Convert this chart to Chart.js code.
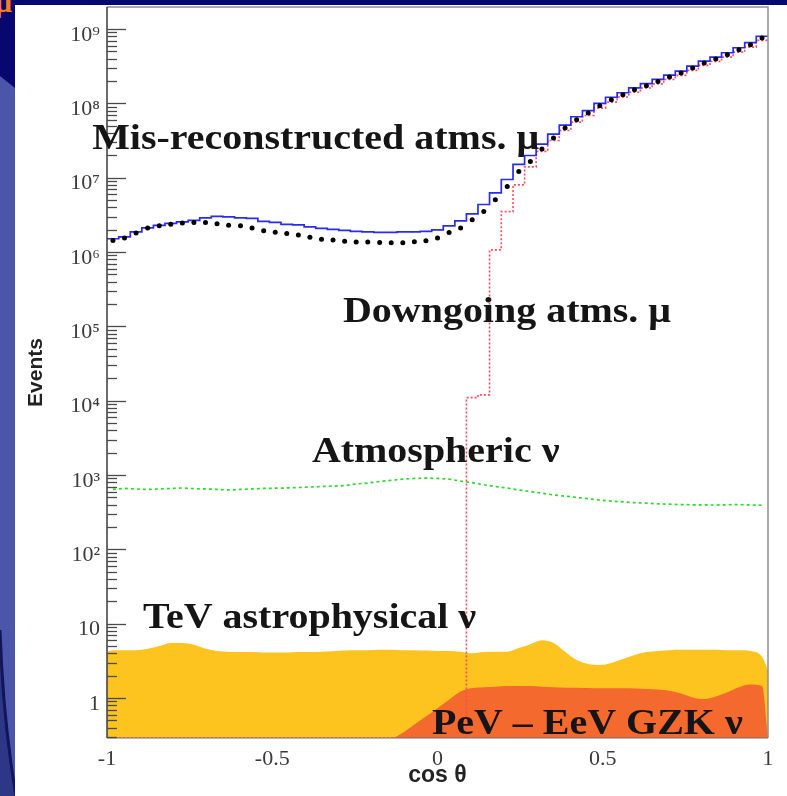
<!DOCTYPE html>
<html><head><meta charset="utf-8">
<script src="https://cdn.jsdelivr.net/npm/chart.js@4.4.1/dist/chart.umd.min.js"></script>
<style>
html,body{margin:0;padding:0;}
body{width:787px;height:796px;overflow:hidden;background:#4b56a8;position:relative;}
.abs{position:absolute;}
#navyTop{left:0;top:0;width:787px;height:5px;background:#07076f;}
#navyCorner{left:0;top:0;width:15px;height:90px;background:#07076f;clip-path:polygon(0 0,100% 0,100% 88px,0 76px);}
#arc{left:0;top:600px;}
#paper{left:15px;top:5px;width:772px;height:791px;background:#fff;}
#mu{left:-5px;top:-15px;color:#ff7a1a;font:bold 30px "Liberation Serif",serif;}
#wrap{left:0;top:0;width:787px;height:796px;}
</style></head>
<body>
<div id="navyTop" class="abs"></div>
<div id="navyCorner" class="abs"></div>
<svg id="arc" class="abs" width="20" height="196">
  <path d="M0,30 Q3,120 16,196 L0,196 Z" fill="#2e3786"/>
  <path d="M0,30 Q3,120 16,196" fill="none" stroke="#11155c" stroke-width="3"/>
</svg>
<div id="paper" class="abs"></div>
<span id="mu" class="abs">μ</span>
<div id="wrap" class="abs"><canvas id="c"></canvas></div>
<script>
// ---------------- data ----------------
const X_MIN = -1, X_MAX = 1;
const Y_MIN = 0.29, Y_MAX = 1.98e9;

const binCentres = [
 -0.982,-0.947,-0.912,-0.877,-0.842,-0.807,-0.772,-0.737,-0.702,-0.667,
 -0.632,-0.596,-0.561,-0.526,-0.491,-0.456,-0.421,-0.386,-0.351,-0.316,
 -0.281,-0.246,-0.211,-0.175,-0.140,-0.105,-0.070,-0.035, 0.000, 0.035,
  0.070, 0.105, 0.140, 0.175, 0.211, 0.246, 0.281, 0.316, 0.351, 0.386,
  0.421, 0.456, 0.491, 0.526, 0.561, 0.596, 0.632, 0.667, 0.702, 0.737,
  0.772, 0.807, 0.842, 0.877, 0.912, 0.947, 0.982];

// blue solid histogram: mis-reconstructed atmospheric muons
const misRecoMu = [
 1.51e6,1.60e6,1.87e6,2.12e6,2.29e6,2.43e6,2.55e6,2.67e6,2.89e6,3.02e6,
 2.98e6,2.89e6,2.84e6,2.59e6,2.51e6,2.36e6,2.32e6,2.18e6,2.08e6,2.02e6,
 1.96e6,1.90e6,1.87e6,1.84e6,1.84e6,1.87e6,1.87e6,1.90e6,1.99e6,2.25e6,
 2.63e6,3.27e6,4.36e6,6.27e6,9.46e6,1.51e7,1.99e7,2.83e7,3.86e7,5.10e7,
 6.61e7,8.00e7,1.00e8,1.21e8,1.39e8,1.62e8,1.84e8,2.10e8,2.40e8,2.72e8,
 3.18e8,3.71e8,4.20e8,4.80e8,5.60e8,6.55e8,8.00e8];

// black dots
const atmMuPoints = [
 1.43e6,1.54e6,1.81e6,2.10e6,2.25e6,2.37e6,2.45e6,2.49e6,2.49e6,2.40e6,
 2.30e6,2.25e6,2.10e6,1.93e6,1.84e6,1.77e6,1.69e6,1.58e6,1.49e6,1.45e6,
 1.40e6,1.36e6,1.36e6,1.34e6,1.33e6,1.33e6,1.38e6,1.42e6,1.54e6,1.83e6,
 2.10e6,2.71e6,3.51e6,5.04e6,7.62e6,1.21e7,1.65e7,2.43e7,3.41e7,4.65e7,
 6.01e7,7.40e7,9.29e7,1.12e8,1.31e8,1.52e8,1.73e8,1.97e8,2.26e8,2.56e8,
 2.99e8,3.49e8,3.95e8,4.51e8,5.26e8,6.15e8,7.57e8];

// red dotted histogram: downgoing atmospheric muons (0 = empty bin)
const downgoingMu = [
 0,0,0,0,0,0,0,0,0,0,
 0,0,0,0,0,0,0,0,0,0,
 0,0,0,0,0,0,0,0,0,0,
 0,1.1e4,1.2e4,1.07e6,3.5e6,8.0e6,1.4e7,2.26e7,3.17e7,4.32e7,
 5.59e7,6.88e7,8.64e7,1.04e8,1.22e8,1.41e8,1.61e8,1.83e8,2.10e8,2.38e8,
 2.78e8,3.25e8,3.67e8,4.19e8,4.89e8,5.72e8,7.04e8];

// green dashed: atmospheric neutrinos
const atmNu = [
 640,660,650,640,650,660,670,655,650,640,
 630,640,650,660,665,670,680,690,700,710,
 720,760,780,820,850,880,900,910,900,880,
 830,790,740,700,670,630,600,570,540,520,
 500,480,460,445,435,425,418,410,405,400,
 398,396,395,398,400,396,392];

// yellow area: TeV astrophysical neutrinos
const tevAstroNu = [
 4.4,4.4,4.4,4.6,5.0,5.5,5.5,5.2,4.6,4.3,
 4.2,4.15,4.15,4.1,4.1,4.1,4.15,4.15,4.2,4.25,
 4.35,4.4,4.4,4.45,4.45,4.4,4.4,4.35,4.3,4.3,
 4.2,4.0,4.15,4.2,4.2,4.7,5.3,6.0,5.5,4.2,
 3.25,2.87,2.78,2.96,3.35,3.79,4.16,4.3,4.4,4.45,
 4.45,4.45,4.45,4.4,4.4,4.3,3.6];
const tevAstroEdges = [4.2, 2.4];   // values at cos = -1 and cos = 1

// orange area: PeV - EeV GZK neutrinos (0 = none)
const gzkNu = [
 0,0,0,0,0,0,0,0,0,0,
 0,0,0,0,0,0,0,0,0,0,
 0,0,0,0,0,0.34,0.44,0.565,0.73,0.95,
 1.22,1.36,1.4,1.42,1.45,1.45,1.45,1.42,1.4,1.38,
 1.38,1.36,1.35,1.35,1.35,1.34,1.32,1.3,1.25,1.15,
 1.02,0.97,1.05,1.2,1.4,1.52,1.45];

const yTickValues = [1,10,1e2,1e3,1e4,1e5,1e6,1e7,1e8,1e9];
const xTickStep = 0.5;

const curveLabels = [
 {text:'Mis-reconstructed atms. μ', x:-1.045, y:2.4e7},
 {text:'Downgoing atms. μ',         x:-0.286, y:1.15e5},
 {text:'Atmospheric ν',             x:-0.380, y:1.5e3},
 {text:'TeV astrophysical ν',       x:-0.891, y:8.75},
 {text:'PeV – EeV GZK ν',           x:-0.017, y:0.33}
];

// ---------------- helpers ----------------
const orMin = v => (v > 0 ? v : Y_MIN);
function histogramPoints(values){
  const pts = values.map((v,i)=>({x: i===0 ? X_MIN : (binCentres[i-1]+binCentres[i])/2, y: orMin(v)}));
  pts.push({x: X_MAX, y: orMin(values[values.length-1])});
  return pts;
}
const centrePoints = values => values.map((v,i)=>({x: binCentres[i], y: orMin(v)}));
const supDigits = {'2':'²','3':'³','4':'⁴','5':'⁵','6':'⁶','7':'⁷','8':'⁸','9':'⁹'};
function powLabel(v){
  const e = Math.round(Math.log10(v));
  if (e === 0) return '1';
  if (e === 1) return '10';
  return '10' + supDigits[String(e)];
}

// ---------------- plugins ----------------
const framePlugin = {
  id:'frame',
  afterDatasetsDraw(chart){
    const {ctx, chartArea:{left,right,top,bottom}, scales:{y}} = chart;
    ctx.save();
    ctx.strokeStyle = '#8e8e8e'; ctx.lineWidth = 1.5;
    ctx.beginPath();
    ctx.moveTo(left, top); ctx.lineTo(right, top); ctx.lineTo(right, bottom);
    ctx.stroke();
    ctx.strokeStyle = '#3a3a3a'; ctx.lineWidth = 1.5;
    ctx.beginPath(); ctx.moveTo(left, top); ctx.lineTo(left, bottom); ctx.stroke();
    ctx.strokeStyle = '#6f6f6f'; ctx.lineWidth = 1.2;
    ctx.beginPath(); ctx.moveTo(left, bottom); ctx.lineTo(right, bottom); ctx.stroke();
    // log ticks pointing into the frame
    ctx.strokeStyle = '#4a4a4a'; ctx.lineWidth = 1.3;
    for (let e = -1; e <= 9; e++){
      for (let m = 1; m <= 9; m++){
        const v = m * Math.pow(10, e);
        if (v < y.min || v > y.max) continue;
        const py = Math.round(y.getPixelForValue(v)) + 0.5;
        const len = m === 1 ? 19 : 10;
        ctx.beginPath(); ctx.moveTo(left, py); ctx.lineTo(left + len, py); ctx.stroke();
      }
    }
    ctx.restore();
  },
  afterDraw(chart){
    const {ctx, scales:{x,y}} = chart;
    ctx.save();
    ctx.font = 'bold 36px "Liberation Serif", serif';
    ctx.fillStyle = '#151515';
    ctx.textBaseline = 'alphabetic';
    for (const l of curveLabels){
      ctx.save();
      ctx.translate(x.getPixelForValue(l.x), y.getPixelForValue(l.y));
      ctx.scale(1.11, 1);
      ctx.fillText(l.text, 0, 0);
      ctx.restore();
    }
    ctx.restore();
  }
};

// ---------------- chart ----------------
Chart.defaults.font.family = '"Liberation Serif", serif';
new Chart(document.getElementById('c'), {
  type:'line',
  data:{datasets:[
    {label:'Mis-reconstructed atms. μ (MC points)', data:centrePoints(atmMuPoints), showLine:false,
     pointRadius:2.5, pointBackgroundColor:'#000', pointBorderWidth:0, order:0},
    {label:'Mis-reconstructed atms. μ', data:histogramPoints(misRecoMu), stepped:true,
     borderColor:'#2b2bef', borderWidth:1.7, pointRadius:0, order:1},
    {label:'Downgoing atms. μ', data:histogramPoints(downgoingMu), stepped:true,
     borderColor:'#ff4a5c', borderWidth:1.6, borderDash:[2,2], pointRadius:0, order:2},
    {label:'Atmospheric ν', data:centrePoints(atmNu),
     borderColor:'#2fd82f', borderWidth:1.7, borderDash:[3,3], pointRadius:0, order:3},
    {label:'PeV – EeV GZK ν',
     data:[...centrePoints(gzkNu), {x:X_MAX, y:Y_MIN}],
     borderWidth:0, backgroundColor:'#f4692e', fill:'start', pointRadius:0,
     cubicInterpolationMode:'monotone', order:4},
    {label:'TeV astrophysical ν',
     data:[{x:X_MIN, y:tevAstroEdges[0]}, ...centrePoints(tevAstroNu), {x:X_MAX, y:tevAstroEdges[1]}],
     borderWidth:0, backgroundColor:'#fdc41f', fill:'start', pointRadius:0,
     cubicInterpolationMode:'monotone', order:5}
  ]},
  options:{
    responsive:true, maintainAspectRatio:false, animation:false,
    layout:{padding:{left:15, right:19, top:7, bottom:0}},
    plugins:{legend:{display:false}, tooltip:{enabled:false}},
    scales:{
      x:{type:'linear', min:X_MIN, max:X_MAX,
         afterFit(s){ s.height = 58; s.paddingLeft = 0; s.paddingRight = 0; },
         grid:{display:false, drawTicks:false}, border:{display:false},
         ticks:{stepSize:xTickStep, padding:8, color:'#3b3b3b',
                font:{size:22, family:'"Liberation Serif", serif'},
                callback:v => String(v)},
         title:{display:true, text:'cos θ', color:'#222', padding:{top:0,bottom:7},
                font:{size:23, weight:'bold', family:'"Liberation Sans", Arial, sans-serif'}}},
      y:{type:'logarithmic', min:Y_MIN, max:Y_MAX,
         afterFit(s){ s.width = 92; s.paddingTop = 0; s.paddingBottom = 0; },
         afterBuildTicks(s){ s.ticks = yTickValues.map(v => ({value:v, major:true})); },
         grid:{display:false, drawTicks:false}, border:{display:false},
         ticks:{padding:7, labelOffset:6, color:'#3b3b3b', autoSkip:false,
                font:{size:22, family:'"Liberation Serif", serif'},
                callback:v => powLabel(v)},
         title:{display:true, text:'Events', color:'#222', padding:{top:9,bottom:0},
                font:{size:21, weight:'bold', family:'"Liberation Sans", Arial, sans-serif'}}}
    }
  },
  plugins:[framePlugin]
});
</script>
</body></html>
